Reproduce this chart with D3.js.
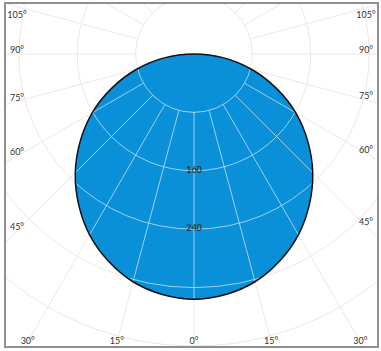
<!DOCTYPE html>
<html><head><meta charset="utf-8">
<script src="https://cdn.jsdelivr.net/npm/d3@7"></script>
<style>html,body{margin:0;padding:0;background:#fff;}svg{display:block;}</style>
</head><body>
<svg id="chart" width="381" height="351"></svg>
<script>
// ---- data ----
const seriesAngles = [-90, -75, -60, -45, -30, -15, 0, 15, 30, 45, 60, 75];
const seriesRadii  = [0, 82, 161, 230, 286, 323, 336, 323, 286, 230, 161, 82];
const ringValues = [80, 160, 240, 320, 400, 480, 560];
const ringLabels = ["160", "240"];
const spokeAngles = d3.range(-180, 180, 15);
const sideTicks = [105, 90, 75, 60, 45];
const bottomTicks = [-30, -15, 0, 15, 30];

const W = 381, H = 351;
const frame = {x: 5, y: 3, w: 373, h: 344};
const cx = 194, cy = 54;
const r = d3.scaleLinear().domain([0, 400]).range([0, 292]);
const toRad = d => d * Math.PI / 180;
const ang = t => Math.PI - toRad(t); // 0° points down

const svg = d3.select("#chart");
const defs = svg.append("defs");
defs.append("clipPath").attr("id", "frameClip").append("rect")
  .attr("x", frame.x).attr("y", frame.y).attr("width", frame.w).attr("height", frame.h);

svg.append("rect").attr("x", frame.x).attr("y", frame.y).attr("width", frame.w).attr("height", frame.h)
  .attr("fill", "#fff");

const pts = seriesAngles.map((a, i) => [ang(a), r(seriesRadii[i])]);
const radialLine = d3.lineRadial().angle(d => d[0]).radius(d => d[1]).curve(d3.curveCatmullRomClosed.alpha(0.5));
const shapeD = radialLine(pts);
defs.append("clipPath").attr("id", "diskClip").append("path")
  .attr("d", shapeD).attr("transform", `translate(${cx},${cy})`);

function drawGrid(g, color, width) {
  g.selectAll("circle.ring").data(ringValues).join("circle")
    .attr("cx", cx).attr("cy", cy).attr("r", d => r(d))
    .attr("fill", "none").attr("stroke", color).attr("stroke-width", width);
  g.selectAll("line.spoke").data(spokeAngles).join("line")
    .attr("x1", d => cx + r(ringValues[0]) * Math.sin(ang(d)))
    .attr("y1", d => cy - r(ringValues[0]) * Math.cos(ang(d)))
    .attr("x2", d => cx + r(900) * Math.sin(ang(d)))
    .attr("y2", d => cy - r(900) * Math.cos(ang(d)))
    .attr("stroke", color).attr("stroke-width", width);
}

const bg = svg.append("g").attr("clip-path", "url(#frameClip)");
drawGrid(bg, "#efe7e3", 1);

svg.append("path").attr("d", shapeD).attr("transform", `translate(${cx},${cy})`)
  .attr("fill", "#0a90d8");

const inner = svg.append("g").attr("clip-path", "url(#diskClip)");
drawGrid(inner, "rgba(215,235,248,0.7)", 1);

svg.append("path").attr("d", shapeD).attr("transform", `translate(${cx},${cy})`)
  .attr("fill", "none").attr("stroke", "#111").attr("stroke-width", 1.5);

// radial axis labels
svg.selectAll("text.rl").data(ringLabels).join("text")
  .attr("x", cx).attr("y", d => cy + r(+d))
  .attr("text-anchor", "middle").attr("dominant-baseline", "middle")
  .attr("font-family", "Lato, 'Open Sans', sans-serif").attr("font-size", 9)
  .attr("fill", "#222").text(d => d);

// frame border
svg.append("rect").attr("x", frame.x).attr("y", frame.y).attr("width", frame.w).attr("height", frame.h)
  .attr("fill", "none").attr("stroke", "#8f8f8f").attr("stroke-width", 2);

// angular labels at frame edges
const lab = svg.append("g").attr("font-family", "Lato, 'Open Sans', sans-serif")
  .attr("font-size", 9).attr("fill", "#333").attr("text-anchor", "middle")
  .attr("dominant-baseline", "middle");
const xl = 17, xr = 366, yb = 342;
sideTicks.forEach(t => {
  const a = toRad(t);
  const dy = (cx - xl) / Math.tan(a);
  const y = Math.max(16, cy + dy - 3);
  lab.append("text").attr("x", xl).attr("y", y).text(t + "°");
  const dyr = (xr - cx) / Math.tan(a);
  lab.append("text").attr("x", xr).attr("y", Math.max(16, cy + dyr - 3)).text(t + "°");
});
bottomTicks.forEach(t => {
  const x = cx + (yb - cy) * Math.tan(toRad(t));
  lab.append("text").attr("x", Math.max(20, Math.min(363, x))).attr("y", yb).text(Math.abs(t) + "°");
});
</script>
</body></html>
